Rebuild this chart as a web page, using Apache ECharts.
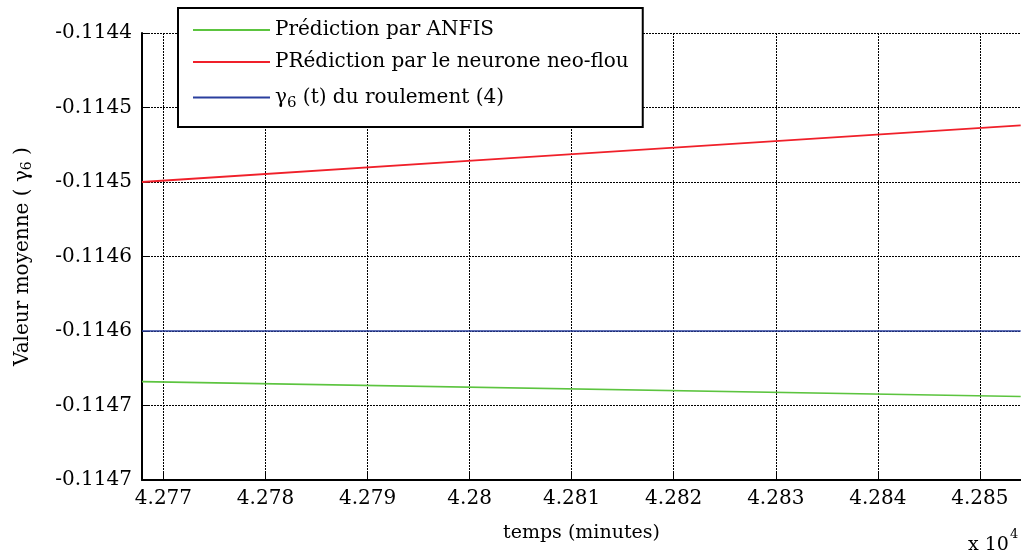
<!DOCTYPE html>
<html>
<head>
<meta charset="utf-8">
<script src="https://cdn.jsdelivr.net/npm/echarts@6/dist/echarts.min.js"></script>
<style>
  html, body { margin: 0; padding: 0; background: #fff; }
  #main { width: 1021px; height: 556px; }
</style>
</head>
<body>
<div id="main"></div>
<script>
// valeurs (temps en minutes)
var tRed = [42767.9, 42804.0, 42854.0];
var neuroFlou = [-0.114500, -0.114484, -0.114462];
var tGreen = [42767.9, 42854.0];
var anfis = [-0.114634, -0.114644];
var tBlue = [42767.9, 42854.0];
var roulement = [-0.1146, -0.1146];

var xTicks = [42770, 42780, 42790, 42800, 42810, 42820, 42830, 42840, 42850];
var xTickLabels = ['4.277', '4.278', '4.279', '4.28', '4.281', '4.282', '4.283', '4.284', '4.285'];
var yMin = -0.1147, yMax = -0.1144, yStep = 0.00005;
var yTickLabels = ['-0.1147', '-0.1147', '-0.1146', '-0.1146', '-0.1145', '-0.1145', '-0.1144'];

var serif = 'DejaVu Serif';
var gridDots = [2, 1];

var pair = function(xs, ys) {
    var out = [];
    for (var i = 0; i < xs.length; i++) out.push([xs[i], ys[i]]);
    return out;
};

var chart = echarts.init(document.getElementById('main'));

var option = {
    backgroundColor: '#fff',
    animation: false,
    grid: { left: 142, right: 0, top: 33, bottom: 76 },
    legend: {
        orient: 'vertical',
        left: 178,
        top: 8,
        backgroundColor: '#fff',
        borderColor: '#000',
        borderWidth: 2,
        borderRadius: 0,
        padding: [12, 14, 16, 14],
        itemWidth: 77,
        itemHeight: 14,
        itemGap: 12,
        itemTextGap: 7,
        itemStyle: { opacity: 0 },
        data: ['Prédiction par ANFIS', 'PRédiction par le neurone neo-flou', 'γ6 (t) du roulement (4)'],
        formatter: function(name) {
            if (name.indexOf('γ6') === 0) {
                return '{u|γ}{sub|6}{u| (t) du roulement (4)}';
            }
            return '{t|' + name + '}';
        },
        textStyle: {
            color: '#000',
            fontFamily: serif,
            fontSize: 20,
            rich: {
                t: { fontFamily: serif, fontSize: 20, color: '#000' },
                u: { fontFamily: serif, fontSize: 20, color: '#000', lineHeight: 34 },
                sub: { fontFamily: serif, fontSize: 15, color: '#000', lineHeight: 34, padding: [12, 0, 0, 0] }
            }
        }
    },
    xAxis: {
        type: 'value',
        min: 42767.9,
        max: 42854.03,
        splitNumber: 9,
        name: 'temps (minutes)',
        nameLocation: 'middle',
        nameGap: 44,
        nameTextStyle: { fontFamily: serif, fontSize: 19, color: '#000' },
        axisLine: { show: true, onZero: false, lineStyle: { color: '#000', width: 2 } },
        axisTick: { show: true, inside: true, length: 7, lineStyle: { color: '#000' } },
        axisLabel: {
            showMinLabel: false,
            showMaxLabel: false,
            margin: 9,
            color: '#000',
            fontFamily: serif,
            fontSize: 20,
            formatter: function(v) {
                var i = xTicks.indexOf(Math.round(v));
                return (i >= 0 && Math.abs(v - xTicks[i]) < 1e-6) ? xTickLabels[i] : '';
            }
        },
        splitLine: { show: true, lineStyle: { color: '#000', type: gridDots, width: 1 } }
    },
    yAxis: {
        type: 'value',
        min: yMin,
        max: yMax,
        interval: yStep,
        name: 'Valeur moyenne ( {g|γ}{sub|6} )',
        nameLocation: 'middle',
        nameRotate: 90,
        nameGap: 108,
        nameTextStyle: {
            fontFamily: serif, fontSize: 20, color: '#000',
            rich: {
                g: { fontFamily: serif, fontSize: 20, color: '#000' },
                sub: { fontFamily: serif, fontSize: 14, color: '#000', padding: [8, 0, 0, 0] }
            }
        },
        axisLine: { show: true, onZero: false, lineStyle: { color: '#000', width: 2 } },
        axisTick: { show: true, inside: true, length: 7, lineStyle: { color: '#000' } },
        axisLabel: {
            margin: 10,
            color: '#000',
            fontFamily: serif,
            fontSize: 20,
            formatter: function(v) {
                var i = Math.round((v - yMin) / yStep);
                return yTickLabels[i] || '';
            }
        },
        splitLine: { show: true, lineStyle: { color: '#000', type: gridDots, width: 1 } }
    },
    graphic: [{
        type: 'text',
        left: 968,
        top: 528,
        style: {
            text: '{a|x 10}{b|4}',
            rich: {
                a: { fontFamily: serif, fontSize: 19, fill: '#000', padding: [10, 0, 0, 0] },
                b: { fontFamily: serif, fontSize: 13, fill: '#000', padding: [0, 0, 12, 1] }
            }
        }
    }],
    series: [
        {
            name: 'Prédiction par ANFIS',
            type: 'line',
            symbol: 'none',
            data: pair(tGreen, anfis),
            lineStyle: { color: '#5cc43f', width: 1.6 },
            itemStyle: { color: '#5cc43f' }
        },
        {
            name: 'PRédiction par le neurone neo-flou',
            type: 'line',
            symbol: 'none',
            data: pair(tRed, neuroFlou),
            lineStyle: { color: '#f0202a', width: 1.8 },
            itemStyle: { color: '#f0202a' }
        },
        {
            name: 'γ6 (t) du roulement (4)',
            type: 'line',
            symbol: 'none',
            data: pair(tBlue, roulement),
            lineStyle: { color: '#2a3f9e', width: 1.6 },
            itemStyle: { color: '#2a3f9e' }
        }
    ]
};

chart.setOption(option);
</script>
</body>
</html>
